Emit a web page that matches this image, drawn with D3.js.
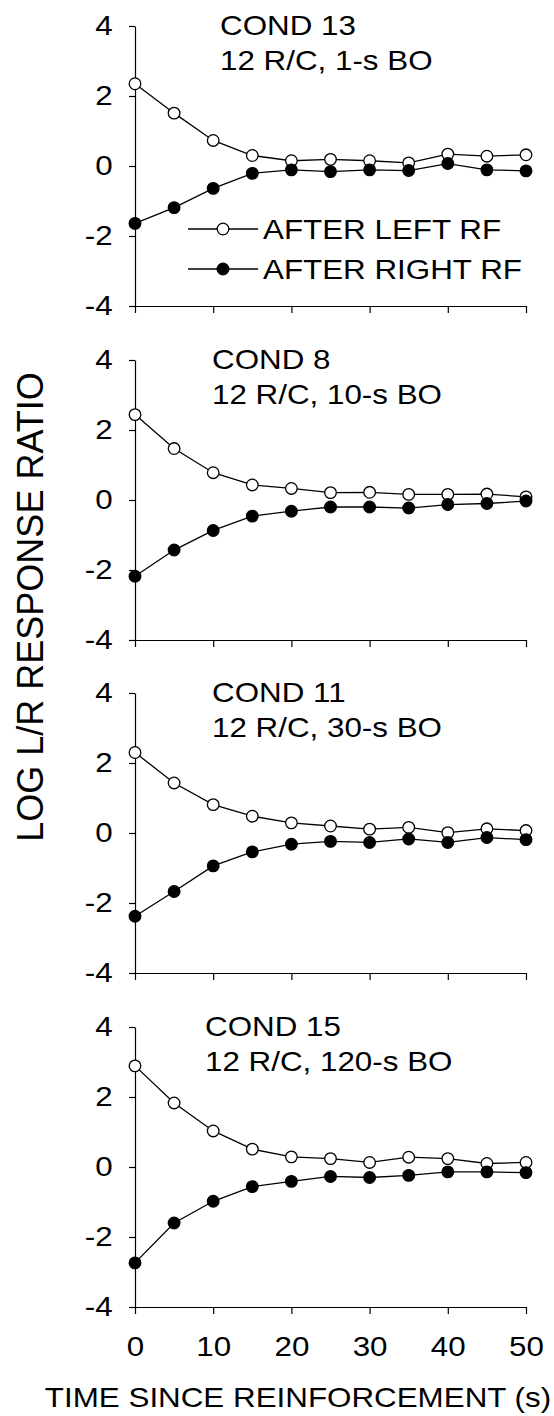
<!DOCTYPE html>
<html lang="en">
<head>
    <meta charset="UTF-8">
    <title>Log L/R Response Ratio</title>
    <style>
        body {
            margin: 0;
            background: #fff;
        }

        svg text {
            font-family: "Liberation Sans", Arial, sans-serif;
            fill: #000;
        }

        .axis path, .axis line {
            stroke: #000;
            stroke-width: 1.2;
        }
    </style>
</head>
<body>
<script src="https://d3js.org/d3.v7.min.js"></script>
<script>
    // Data
    const times = [0, 5, 10, 15, 20, 25, 30, 35, 40, 45, 50];
    const panelNames = ["COND 13", "COND 8", "COND 11", "COND 15"];
    const panelSubtitles = ["12 R/C, 1-s BO", "12 R/C, 10-s BO", "12 R/C, 30-s BO", "12 R/C, 120-s BO"];

    const cond13Left = [2.35, 1.51, 0.73, 0.30, 0.15, 0.19, 0.15, 0.09, 0.34, 0.28, 0.32];
    const cond13Right = [-1.64, -1.19, -0.64, -0.21, -0.11, -0.16, -0.11, -0.13, 0.07, -0.11, -0.14];
    const cond8Left = [2.44, 1.47, 0.78, 0.43, 0.33, 0.21, 0.22, 0.16, 0.16, 0.17, 0.09];
    const cond8Right = [-2.18, -1.43, -0.87, -0.46, -0.32, -0.20, -0.20, -0.23, -0.13, -0.10, -0.03];
    const cond11Left = [2.30, 1.43, 0.81, 0.48, 0.29, 0.20, 0.11, 0.16, 0.01, 0.12, 0.07];
    const cond11Right = [-2.38, -1.67, -0.94, -0.54, -0.32, -0.24, -0.27, -0.17, -0.27, -0.13, -0.19];
    const cond15Left = [2.89, 1.83, 1.03, 0.51, 0.29, 0.24, 0.13, 0.28, 0.24, 0.10, 0.13];
    const cond15Right = [-2.74, -1.60, -0.98, -0.56, -0.41, -0.27, -0.30, -0.24, -0.14, -0.14, -0.16];

    const leftSeries = [cond13Left, cond8Left, cond11Left, cond15Left];
    const rightSeries = [cond13Right, cond8Right, cond11Right, cond15Right];

    const yTicks = [-4, -2, 0, 2, 4];
    const xTicks = [0, 10, 20, 30, 40, 50];
    const legendLabels = ["AFTER LEFT RF", "AFTER RIGHT RF"];

    // Layout
    const width = 554;
    const height = 1416;
    const panelTops = [26, 360, 693, 1027];
    const panelHeight = 280;
    const fontSize = 28;
    const stretch = 1.12; // the scanned lettering is wider than Arial

    const svg = d3.select("body")
        .append("svg")
        .attr("width", width)
        .attr("height", height);

    const xScale = d3.scaleLinear()
        .domain([0, 50])
        .range([135, 526]);

    const line = d3.line();

    // horizontal text, stretched a little around its anchor
    function label(parent, x, y, str, anchor) {
        return parent.append("text")
            .attr("transform", "translate(" + x + "," + y + ") scale(" + stretch + ",1)")
            .attr("text-anchor", anchor || "start")
            .style("font-size", fontSize + "px")
            .text(str);
    }

    for (let p = 0; p < panelTops.length; p++) {
        const top = panelTops[p];
        const yScale = d3.scaleLinear()
            .domain([-4, 4])
            .range([top + panelHeight, top]);

        const g = svg.append("g");

        // y axis
        const yAxis = d3.axisLeft(yScale)
            .tickValues(yTicks)
            .tickSize(6)
            .tickSizeOuter(0)
            .tickPadding(14)
            .tickFormat(d => d);
        g.append("g")
            .attr("class", "axis")
            .attr("transform", "translate(" + xScale(0) + ",0)")
            .call(yAxis)
            .selectAll("text")
            .attr("transform", "scale(" + stretch + ",1)")
            .style("font-size", fontSize + "px");

        // x axis
        const xAxis = d3.axisBottom(xScale)
            .tickValues(xTicks)
            .tickSize(7)
            .tickSizeOuter(0)
            .tickPadding(22)
            .tickFormat(d => d);
        const xg = g.append("g")
            .attr("class", "axis")
            .attr("transform", "translate(0," + yScale(-4) + ")")
            .call(xAxis);
        xg.selectAll("text")
            .attr("transform", "scale(" + stretch + ",1)")
            .style("font-size", fontSize + "px");
        if (p < panelTops.length - 1) {
            xg.selectAll("text").remove();
        }

        // series: open = after left RF, filled = after right RF
        [[leftSeries[p], "#fff"], [rightSeries[p], "#000"]].forEach(([vals, fill]) => {
            const pts = times.map((t, i) => [xScale(t), yScale(vals[i])]);
            g.append("path")
                .attr("d", line(pts))
                .attr("fill", "none")
                .attr("stroke", "#000")
                .attr("stroke-width", 1.3);
            g.selectAll(null)
                .data(pts)
                .enter()
                .append("circle")
                .attr("cx", d => d[0])
                .attr("cy", d => d[1])
                .attr("r", 5.8)
                .attr("fill", fill)
                .attr("stroke", "#000")
                .attr("stroke-width", 1.3);
        });

        // panel title
        const titleX = [220, 212, 212, 205][p];
        label(g, titleX, top + 9, panelNames[p]);
        label(g, titleX, top + 44, panelSubtitles[p]);

        // legend only in the first panel
        if (p === 0) {
            legendLabels.forEach((text, i) => {
                const ly = 229 + i * 40;
                g.append("line")
                    .attr("x1", 188).attr("x2", 258)
                    .attr("y1", ly).attr("y2", ly)
                    .attr("stroke", "#000")
                    .attr("stroke-width", 1.3);
                g.append("circle")
                    .attr("cx", 223).attr("cy", ly)
                    .attr("r", 5.8)
                    .attr("fill", i === 0 ? "#fff" : "#000")
                    .attr("stroke", "#000")
                    .attr("stroke-width", 1.3);
                label(g, 263, ly + 10, text);
            });
        }
    }

    // axis titles
    svg.append("text")
        .attr("text-anchor", "middle")
        .attr("transform", "translate(43,607) rotate(-90)")
        .style("font-size", "36px")
        .text("LOG L/R RESPONSE RATIO");

    label(svg, 298, 1407, "TIME SINCE REINFORCEMENT (s)", "middle");
</script>
</body>
</html>
